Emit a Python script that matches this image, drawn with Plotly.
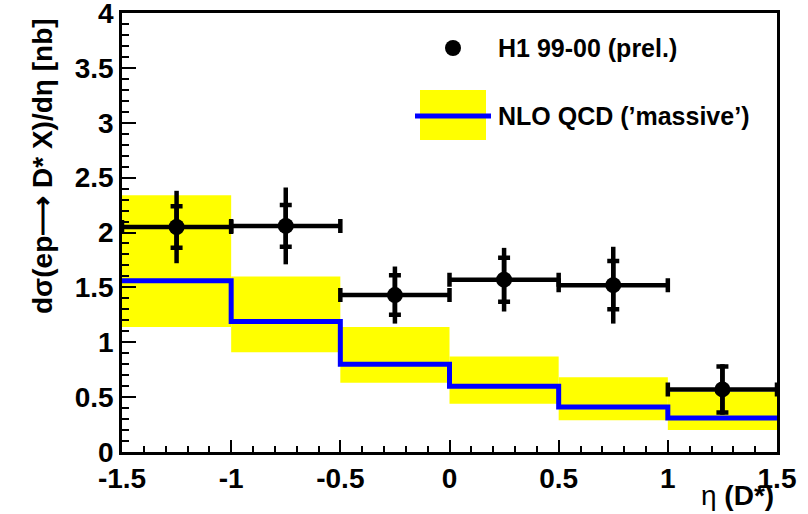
import plotly.graph_objects as go

# ---- data ----
bin_edges = [-1.5, -1.0, -0.5, 0.0, 0.5, 1.0, 1.5]
eta_centers = [-1.25, -0.75, -0.25, 0.25, 0.75, 1.25]
eta_halfwidth = [0.25, 0.25, 0.25, 0.25, 0.25, 0.25]
h1_xsec = [2.05, 2.06, 1.43, 1.57, 1.52, 0.57]
h1_stat = [0.19, 0.19, 0.18, 0.20, 0.22, 0.21]
h1_total = [0.33, 0.35, 0.26, 0.29, 0.35, 0.23]
nlo_central = [1.56, 1.19, 0.80, 0.60, 0.41, 0.31]
nlo_low = [1.14, 0.91, 0.63, 0.44, 0.29, 0.20]
nlo_high = [2.34, 1.60, 1.14, 0.87, 0.68, 0.55]

W, H = 808, 514
# plot frame in window pixels: x 122..777, y 13..452
L, T = 122, 13
R = W - 777
B = H - 452
FONT = "Liberation Sans, Arial, sans-serif"

fig = go.Figure()

# NLO uncertainty band
fig.add_trace(go.Bar(
    x=eta_centers,
    y=[h - l for h, l in zip(nlo_high, nlo_low)],
    base=nlo_low,
    width=[2 * w for w in eta_halfwidth],
    marker=dict(color="#ffff00", line=dict(width=0)),
    hoverinfo="skip", showlegend=False,
))

# NLO central step line
fig.add_trace(go.Scatter(
    x=bin_edges,
    y=nlo_central + [nlo_central[-1]],
    mode="lines",
    line=dict(color="#0000ff", width=5, shape="hv"),
    showlegend=False,
))

# total error (no caps)
fig.add_trace(go.Scatter(
    x=eta_centers, y=h1_xsec, mode="markers",
    marker=dict(size=1, color="black"),
    error_y=dict(type="data", array=h1_total, color="black", thickness=4.5, width=0),
    showlegend=False,
))

# stat error with caps + x bins
fig.add_trace(go.Scatter(
    x=eta_centers, y=h1_xsec, mode="markers",
    marker=dict(size=16, color="black", symbol="circle"),
    error_y=dict(type="data", array=h1_stat, color="black", thickness=4.5, width=6),
    error_x=dict(type="data", array=eta_halfwidth, color="black", thickness=4.5, width=7),
    showlegend=False,
))

axis_common = dict(
    showgrid=False, zeroline=False, showline=True, linecolor="black", linewidth=2.5,
    ticks="inside", tickcolor="black", tickwidth=2, mirror=True, automargin=False,
    ticklabeloverflow="allow",
    tickfont=dict(family=FONT, size=28, color="black", weight="bold"),
)

fig.update_layout(
    width=W, height=H,
    margin=dict(l=L, r=R, t=T, b=B, pad=0),
    paper_bgcolor="white", plot_bgcolor="white",
    barmode="overlay",
    showlegend=False,
    xaxis=dict(range=[-1.5, 1.5], tickvals=[-1.5, -1, -0.5, 0, 0.5, 1, 1.5],
               ticktext=["-1.5", "-1", "-0.5", "0", "0.5", "1", "1.5"],
               ticklen=12, minor=dict(ticks="inside", ticklen=6, tickcolor="black", tickwidth=2, dtick=0.1),
               **axis_common),
    yaxis=dict(range=[0, 4], tickvals=[0, 0.5, 1, 1.5, 2, 2.5, 3, 3.5, 4],
               ticktext=["0", "0.5", "1", "1.5", "2", "2.5", "3", "3.5", "4"],
               ticklen=14, minor=dict(ticks="inside", ticklen=7, tickcolor="black", tickwidth=2, dtick=0.1),
               **axis_common),
)

# legend glyphs (paper coords, given in window pixels)
pw = W - L - R
ph = H - T - B
def px(x):
    return (x - L) / pw
def py(y):
    return (H - B - y) / ph

fig.add_shape(type="circle", xref="paper", yref="paper",
              x0=px(445), x1=px(461), y0=py(56), y1=py(40),
              fillcolor="black", line=dict(color="black", width=0))
fig.add_shape(type="rect", xref="paper", yref="paper",
              x0=px(420), x1=px(486), y0=py(140), y1=py(90),
              fillcolor="#ffff00", line=dict(width=0))
fig.add_shape(type="line", xref="paper", yref="paper",
              x0=px(415), x1=px(491), y0=py(116), y1=py(116),
              line=dict(color="#0000ff", width=5))

lfont = dict(family=FONT, size=25, color="black", weight="bold")
fig.add_annotation(xref="paper", yref="paper", x=px(496), y=py(48), text="H1 99-00 (prel.)",
                   showarrow=False, xanchor="left", yanchor="middle", font=lfont)
fig.add_annotation(xref="paper", yref="paper", x=px(496), y=py(116), text="NLO QCD (\u2019massive\u2019)",
                   showarrow=False, xanchor="left", yanchor="middle", font=lfont)

# axis titles
tfont = dict(family=FONT, size=28, color="black", weight="bold")
fig.add_annotation(xref="paper", yref="paper", x=px(42), y=py(166),
                   text="d\u03c3(ep\u27f6 D* X)/d\u03b7 [nb]", textangle=-90,
                   showarrow=False, xanchor="center", yanchor="middle", font=tfont)
fig.add_annotation(xref="paper", yref="paper", x=px(776), y=py(496),
                   text="\u03b7 <b>(D*)</b>", showarrow=False, xanchor="right", yanchor="middle",
                   font=dict(family=FONT, size=28, color="black"))

fig.write_html("out.html", config={"displayModeBar": False},
               post_script="document.body.style.margin='0';document.body.style.padding='0';")
